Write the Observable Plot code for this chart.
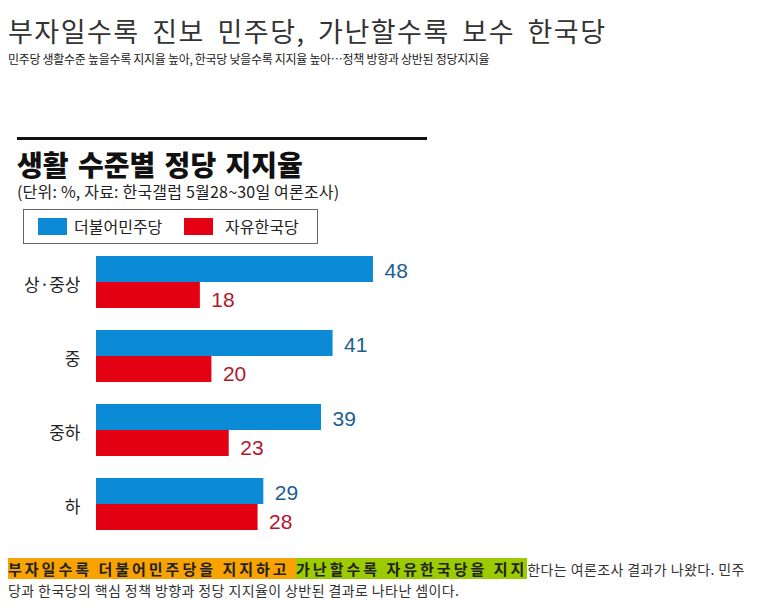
<!DOCTYPE html>
<html>
<head>
<meta charset="utf-8">
<script src="https://cdn.jsdelivr.net/npm/d3@7"></script>
<script src="https://cdn.jsdelivr.net/npm/@observablehq/plot@0.6"></script>
<style>
  html, body { margin: 0; padding: 0; background: #fff; }
  body { width: 757px; height: 614px; position: relative; overflow: hidden; font-family: "Noto Sans CJK KR", "Noto Sans", sans-serif; }
  .abs { position: absolute; white-space: nowrap; }
  #headline { left: 8px; top: 11px; font-size: 27px; letter-spacing: 1.5px; word-spacing: 5px; color: #333; line-height: 40px; }
  #subtitle { left: 8px; top: 50px; font-size: 12px; color: #222; line-height: 18px; letter-spacing: -0.3px; }
  #rule { left: 17px; top: 137px; width: 410px; height: 3px; background: #111; }
  #ctitle { left: 17px; top: 149px; font-size: 28px; font-weight: 900; color: #111; line-height: 30px; letter-spacing: 0px; word-spacing: 3px; }
  #csource { left: 17px; top: 182px; font-size: 16px; color: #222; line-height: 18px; letter-spacing: 0.2px; }
  #legend { left: 23px; top: 209px; width: 293px; height: 33px; border: 1px solid #666; }
  .sw { position: absolute; top: 8px; width: 29px; height: 17px; }
  .lt { position: absolute; top: 3px; font-size: 16px; line-height: 26px; color: #222; }
  #chart { left: 0; top: 245px; }
  #foot { left: 8px; top: 558px; font-size: 14px; line-height: 21px; color: #333; letter-spacing: 0.4px; }
  .hl { font-weight: bold; font-size: 15px; letter-spacing: 3px; color: #222; }
</style>
</head>
<body>
<div id="headline" class="abs"></div>
<div id="subtitle" class="abs"></div>
<div id="rule" class="abs"></div>
<div id="ctitle" class="abs"></div>
<div id="csource" class="abs"></div>
<div id="legend" class="abs"></div>
<div id="chart" class="abs"></div>
<div id="foot" class="abs"></div>
<script>
const headline = "부자일수록 진보 민주당, 가난할수록 보수 한국당";
const subtitle = "민주당 생활수준 높을수록 지지율 높아, 한국당 낮을수록 지지율 높아…정책 방향과 상반된 정당지지율";
const chartTitle = "생활 수준별 정당 지지율";
const chartSource = "(단위: %, 자료: 한국갤럽 5월28~30일 여론조사)";
const categories = ["상·중상", "중", "중하", "하"];
const parties = ["더불어민주당", "자유한국당"];
const demValues = [48, 41, 39, 29];
const libValues = [18, 20, 23, 28];
const barColors = ["#0b8ad6", "#e40013"];
const labelColors = ["#1c5d90", "#b3172d"];
const footHighlight1 = "부자일수록 더불어민주당을 지지하고 ";
const footHighlight2 = "가난할수록 자유한국당을 지지";
const footLine1Rest = "한다는 여론조사 결과가 나왔다. 민주";
const footLine2 = "당과 한국당의 핵심 정책 방향과 정당 지지율이 상반된 결과로 나타난 셈이다.";

document.getElementById("headline").textContent = headline;
document.getElementById("subtitle").textContent = subtitle;
document.getElementById("ctitle").textContent = chartTitle;
document.getElementById("csource").textContent = chartSource;

// legend
const legend = document.getElementById("legend");
const swX = [14, 160], txX = [50, 201];
parties.forEach((p, i) => {
  const sw = document.createElement("div");
  sw.className = "sw"; sw.style.left = swX[i] + "px"; sw.style.background = barColors[i];
  legend.appendChild(sw);
  const t = document.createElement("div");
  t.className = "lt"; t.style.left = txX[i] + "px"; t.textContent = p;
  legend.appendChild(t);
});

// footer
const foot = document.getElementById("foot");
const h1 = document.createElement("span"); h1.className = "hl"; h1.style.background = "#f8a300"; h1.textContent = footHighlight1;
const h2 = document.createElement("span"); h2.className = "hl"; h2.style.background = "#9bcb00"; h2.textContent = footHighlight2;
foot.appendChild(h1); foot.appendChild(h2);
foot.appendChild(document.createTextNode(footLine1Rest));
foot.appendChild(document.createElement("br"));
foot.appendChild(document.createTextNode(footLine2));

const data = categories.flatMap((c, i) => [
  {category: c, party: parties[0], value: demValues[i]},
  {category: c, party: parties[1], value: libValues[i]}
]);

const chart = Plot.plot({
  width: 757,
  height: 295,
  marginLeft: 96,
  marginRight: 372.5,
  marginTop: 10,
  marginBottom: 10,
  style: {fontFamily: "'Noto Sans CJK KR', sans-serif", color: "#222", background: "transparent"},
  x: {domain: [0, 50], axis: null},
  y: {domain: parties, axis: null, padding: 0},
  fy: {domain: categories, paddingInner: 21 / 74, paddingOuter: 0, label: null},
  color: {domain: parties, range: barColors},
  marks: [
    Plot.barX(data, {fy: "category", y: "party", x: "value", fill: "party"}),
    Plot.text(data.filter(d => d.party === parties[0]), {
      fy: "category", y: "party", x: "value", text: d => String(d.value),
      dx: 11, dy: 2, textAnchor: "start", fill: labelColors[0], fontSize: 21,
      fontFamily: "'Liberation Sans', sans-serif"
    }),
    Plot.text(data.filter(d => d.party === parties[1]), {
      fy: "category", y: "party", x: "value", text: d => String(d.value),
      dx: 11, dy: 5, textAnchor: "start", fill: labelColors[1], fontSize: 21,
      fontFamily: "'Liberation Sans', sans-serif"
    }),
    Plot.axisFy({anchor: "left", tickSize: 0, tickPadding: 16, fontSize: 17, label: null, dy: 4})
  ]
});
document.getElementById("chart").appendChild(chart);
</script>
</body>
</html>
